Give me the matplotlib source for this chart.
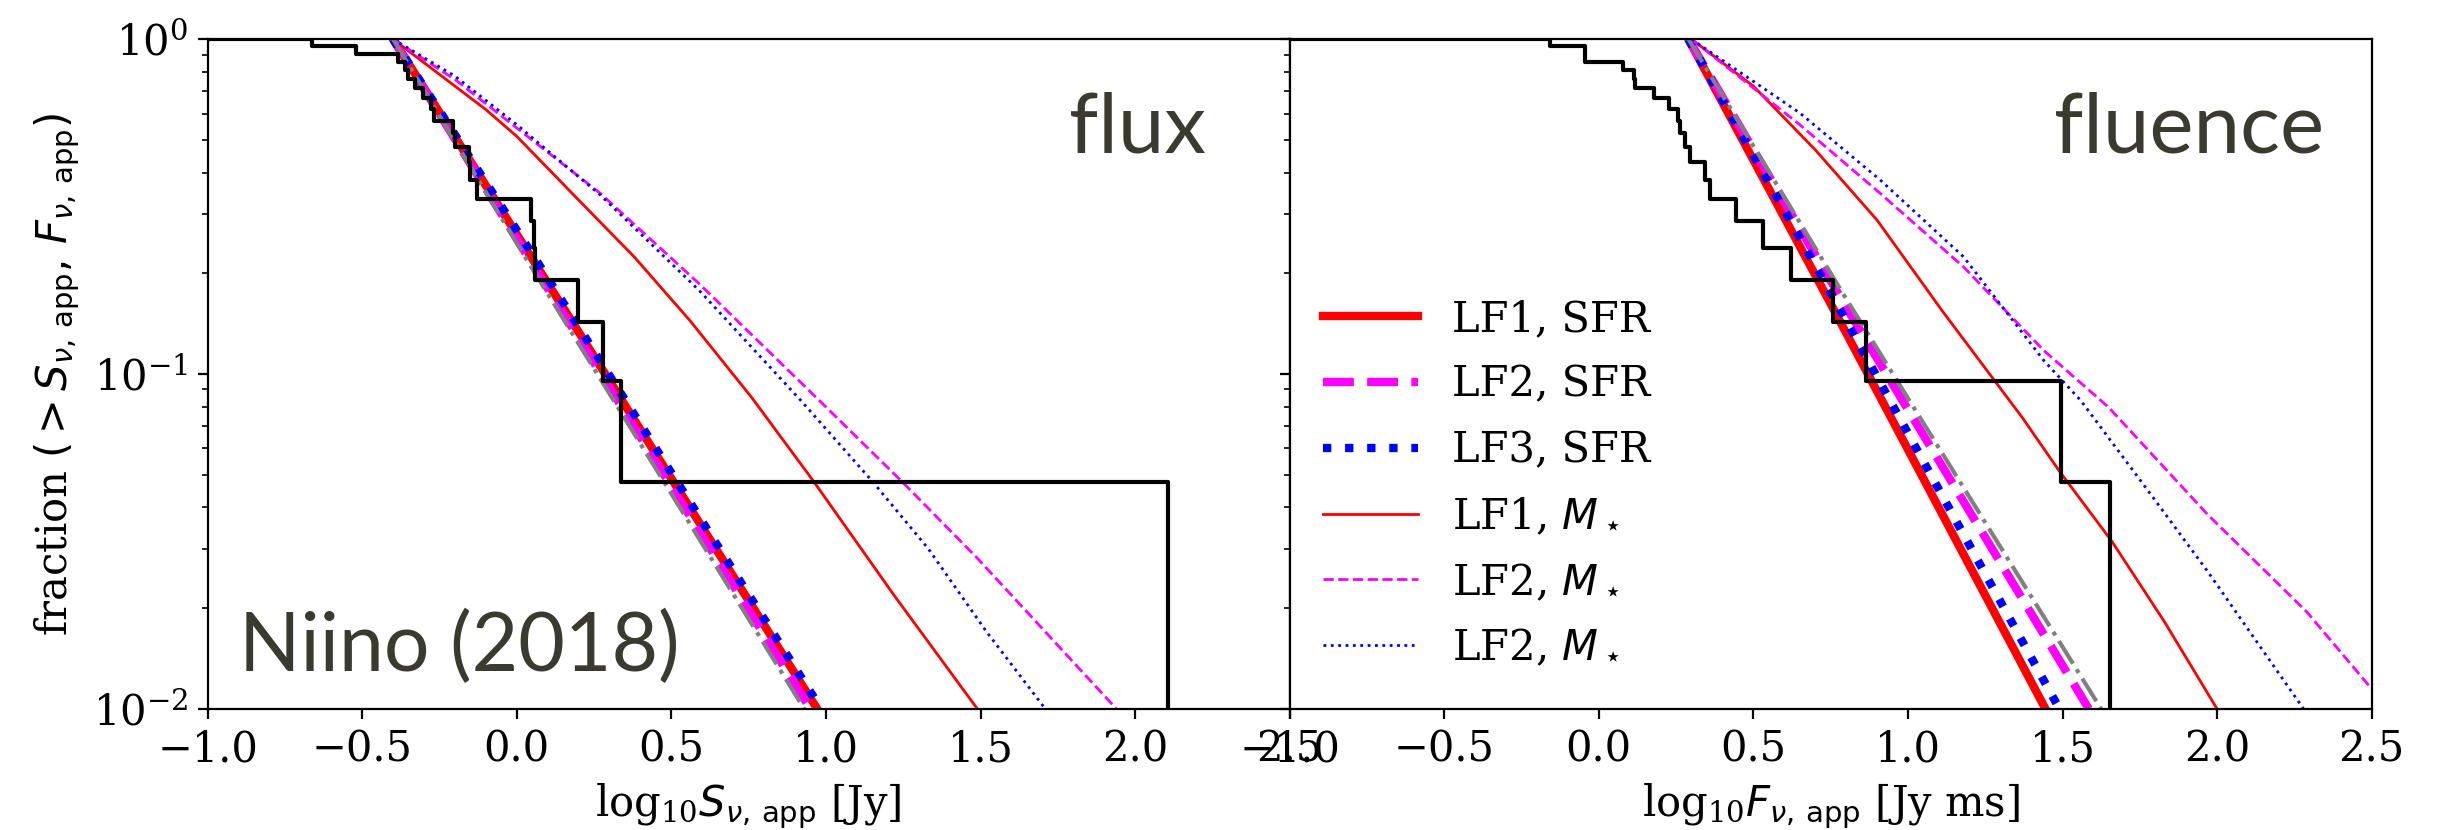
import numpy as np
import matplotlib.pyplot as plt

plt.rcParams["font.family"] = "DejaVu Serif"
plt.rcParams["mathtext.fontset"] = "dejavusans"
plt.rcParams["font.size"] = 15

n_bursts = 21
flux_logS = [-0.661, -0.521, -0.383, -0.361, -0.351, -0.329, -0.303, -0.279, -0.269,
             -0.207, -0.200, -0.156, -0.150, -0.130, 0.046, 0.056, 0.058, 0.197,
             0.279, 0.338, 2.105]
fluence_logF = [-0.159, -0.046, -0.044, 0.078, 0.113, 0.116, 0.178, 0.228, 0.257,
                0.262, 0.279, 0.294, 0.344, 0.359, 0.445, 0.532, 0.623, 0.756,
                0.864, 1.496, 1.652]

# model curves, flux panel (x = log10 S, y = log10 fraction)
flux_lf1_sfr_x = [-0.40, 0.06, 0.972]
flux_lf1_sfr_y = [0.0, -0.67, -2.0]
flux_lf2_sfr_x = [-0.40, 0.05, 0.950]
flux_lf2_sfr_y = [0.0, -0.67, -2.0]
flux_lf3_sfr_x = [-0.40, 0.07, 0.985]
flux_lf3_sfr_y = [0.0, -0.67, -2.0]
flux_gray_x = [-0.40, 0.04, 0.930]
flux_gray_y = [0.0, -0.67, -2.0]
flux_lf1_m_x = [-0.40, -0.30, -0.20, -0.10, 0.00, 0.20, 0.38, 0.56, 0.76, 0.96, 1.22, 1.49]
flux_lf1_m_y = [0.0, -0.07, -0.14, -0.21, -0.29, -0.48, -0.65, -0.84, -1.07, -1.32, -1.66, -2.0]
flux_lf2_m_x = [-0.40, -0.20, 0.00, 0.27, 0.59, 0.98, 1.245, 1.49, 1.71, 1.94]
flux_lf2_m_y = [0.0, -0.12, -0.265, -0.46, -0.73, -1.08, -1.32, -1.55, -1.77, -2.0]
flux_lf3_m_x = [-0.40, -0.20, 0.00, 0.27, 0.59, 0.92, 1.15, 1.33, 1.52, 1.71]
flux_lf3_m_y = [0.0, -0.11, -0.255, -0.465, -0.75, -1.08, -1.32, -1.52, -1.77, -2.0]

# model curves, fluence panel
flu_lf1_sfr_x = [0.29, 0.75, 1.445]
flu_lf1_sfr_y = [0.0, -0.79, -2.0]
flu_lf2_sfr_x = [0.29, 0.80, 1.585]
flu_lf2_sfr_y = [0.0, -0.80, -2.0]
flu_lf3_sfr_x = [0.29, 0.77, 1.490]
flu_lf3_sfr_y = [0.0, -0.79, -2.0]
flu_gray_x = [0.29, 0.81, 1.625]
flu_gray_y = [0.0, -0.79, -2.0]
flu_lf1_m_x = [0.30, 0.50, 0.70, 0.90, 1.11, 1.37, 1.49, 1.66, 1.83, 2.00]
flu_lf1_m_y = [0.0, -0.14, -0.33, -0.54, -0.81, -1.13, -1.29, -1.50, -1.74, -2.0]
flu_lf2_m_x = [0.30, 0.65, 0.91, 1.18, 1.44, 1.65, 1.97, 2.29, 2.50]
flu_lf2_m_y = [0.0, -0.255, -0.46, -0.68, -0.93, -1.10, -1.42, -1.71, -1.94]
flu_lf3_m_x = [0.30, 0.65, 0.91, 1.18, 1.44, 1.56, 1.77, 1.97, 2.28]
flu_lf3_m_y = [0.0, -0.22, -0.42, -0.65, -0.96, -1.08, -1.34, -1.59, -2.0]

labels = ["LF1, SFR", "LF2, SFR", "LF3, SFR",
          r"LF1, $M_\star$", r"LF2, $M_\star$", r"LF2, $M_\star$"]


def cumulative(vals):
    xs = [-1.0] + list(vals)
    ys = [1.0] + [(n_bursts - i) / n_bursts for i in range(1, n_bursts + 1)]
    ys[-1] = 1e-4  # last drop goes below the axis
    return xs, ys


def draw(ax, curves, obs):
    sfr1, sfr2, sfr3, gray, m1, m2, m3 = curves
    ax.plot(sfr1[0], 10 ** np.array(sfr1[1]), color="red", lw=3, ls="-")
    ax.plot(sfr2[0], 10 ** np.array(sfr2[1]), color="magenta", lw=3, ls="--")
    ax.plot(sfr3[0], 10 ** np.array(sfr3[1]), color="blue", lw=3, ls=":")
    ax.plot(m1[0], 10 ** np.array(m1[1]), color="red", lw=1, ls="-")
    ax.plot(m2[0], 10 ** np.array(m2[1]), color="magenta", lw=1, ls="--")
    ax.plot(m3[0], 10 ** np.array(m3[1]), color="blue", lw=1, ls=":")
    ax.plot(gray[0], 10 ** np.array(gray[1]), color="gray", lw=1.5, ls="-.")
    xs, ys = cumulative(obs)
    ax.step(xs, ys, where="post", color="black", lw=1.5)
    ax.set_yscale("log")
    ax.set_xlim(-1.0, 2.5)
    ax.set_ylim(1e-2, 1)
    ax.set_xticks(np.arange(-1.0, 2.51, 0.5))


fig, axes = plt.subplots(1, 2, figsize=(12.185, 4.15), dpi=200, sharey=True)
fig.subplots_adjust(left=0.0852, right=0.9732, top=0.9527, bottom=0.1458, wspace=0)

draw(axes[0], [(flux_lf1_sfr_x, flux_lf1_sfr_y), (flux_lf2_sfr_x, flux_lf2_sfr_y),
               (flux_lf3_sfr_x, flux_lf3_sfr_y), (flux_gray_x, flux_gray_y),
               (flux_lf1_m_x, flux_lf1_m_y), (flux_lf2_m_x, flux_lf2_m_y),
               (flux_lf3_m_x, flux_lf3_m_y)], flux_logS)
draw(axes[1], [(flu_lf1_sfr_x, flu_lf1_sfr_y), (flu_lf2_sfr_x, flu_lf2_sfr_y),
               (flu_lf3_sfr_x, flu_lf3_sfr_y), (flu_gray_x, flu_gray_y),
               (flu_lf1_m_x, flu_lf1_m_y), (flu_lf2_m_x, flu_lf2_m_y),
               (flu_lf3_m_x, flu_lf3_m_y)], fluence_logF)

axes[0].set_ylabel(r"fraction $(>S_{\nu,\,\mathrm{app}},\,F_{\nu,\,\mathrm{app}})$")
axes[0].set_xlabel(r"log$_{\mathdefault{10}}S_{\nu,\,\mathrm{app}}$ [Jy]")
axes[1].set_xlabel(r"log$_{\mathdefault{10}}F_{\nu,\,\mathrm{app}}$ [Jy ms]")

handles = axes[1].get_lines()[:6]
axes[1].legend(handles, labels, loc="center left", bbox_to_anchor=(0.015, 0.337),
               frameon=False, borderaxespad=0, handlelength=2.3, handletextpad=0.8,
               labelspacing=0.57, fontsize=15)

txt = dict(family="Lato", fontweight="normal", color="#3a3a2f", fontsize=30)
axes[0].text(0.923, 0.831, "flux", transform=axes[0].transAxes, ha="right", va="baseline", **txt)
axes[1].text(0.956, 0.831, "fluence", transform=axes[1].transAxes, ha="right", va="baseline", **txt)
axes[0].text(0.029, 0.056, "Niino (2018)", transform=axes[0].transAxes, ha="left", va="baseline",
             **dict(txt, fontsize=29))

fig.savefig("out.png", dpi=200)
